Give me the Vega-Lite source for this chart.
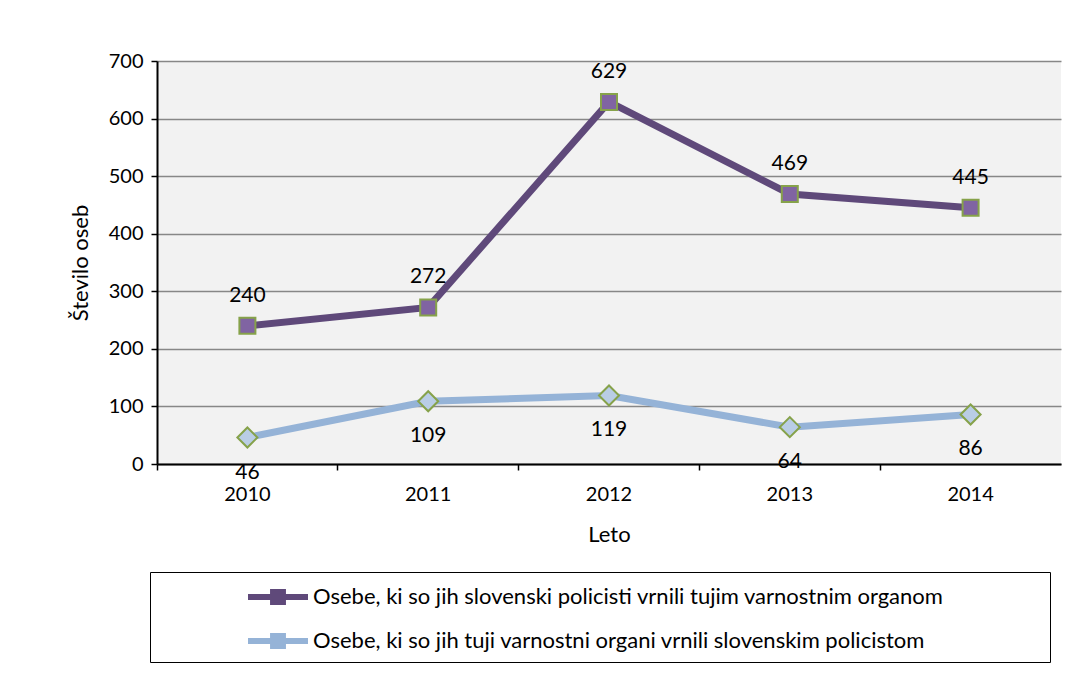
{
  "$schema": "https://vega.github.io/schema/vega-lite/v6.json",
  "width": 904,
  "height": 403,
  "autosize": {"type": "none"},
  "padding": {"left": 157, "top": 61, "right": 31, "bottom": 211},
  "background": "white",
  "config": {
    "view": {"fill": "#F2F2F2", "stroke": null},
    "font": "Lato",
    "text": {"font": "Lato"}
  },
  "data": {
    "values": [
      {"year": "2010", "series": "Osebe, ki so jih slovenski policisti vrnili tujim varnostnim organom", "value": 240},
      {"year": "2011", "series": "Osebe, ki so jih slovenski policisti vrnili tujim varnostnim organom", "value": 272},
      {"year": "2012", "series": "Osebe, ki so jih slovenski policisti vrnili tujim varnostnim organom", "value": 629},
      {"year": "2013", "series": "Osebe, ki so jih slovenski policisti vrnili tujim varnostnim organom", "value": 469},
      {"year": "2014", "series": "Osebe, ki so jih slovenski policisti vrnili tujim varnostnim organom", "value": 445},
      {"year": "2010", "series": "Osebe, ki so jih tuji varnostni organi vrnili slovenskim policistom", "value": 46},
      {"year": "2011", "series": "Osebe, ki so jih tuji varnostni organi vrnili slovenskim policistom", "value": 109},
      {"year": "2012", "series": "Osebe, ki so jih tuji varnostni organi vrnili slovenskim policistom", "value": 119},
      {"year": "2013", "series": "Osebe, ki so jih tuji varnostni organi vrnili slovenskim policistom", "value": 64},
      {"year": "2014", "series": "Osebe, ki so jih tuji varnostni organi vrnili slovenskim policistom", "value": 86}
    ]
  },
  "encoding": {
    "x": {
      "field": "year",
      "type": "ordinal",
      "scale": {"type": "band", "paddingInner": 0, "paddingOuter": 0},
      "bandPosition": 0.5,
      "axis": {
        "title": "Leto",
        "titleFontSize": 22,
        "titleFontWeight": "normal",
        "titleColor": "black",
        "titlePadding": 20,
        "labelFontSize": 20,
        "labelColor": "black",
        "labelAngle": 0,
        "labelPadding": 14,
        "bandPosition": 0,
        "tickColor": "black",
        "tickSize": 6,
        "tickWidth": 1.5,
        "domainColor": "black",
        "domainWidth": 2,
        "grid": false
      }
    },
    "y": {
      "field": "value",
      "type": "quantitative",
      "scale": {"domain": [0, 700]},
      "axis": {
        "title": "Število oseb",
        "titleFontSize": 22,
        "titleFontWeight": "normal",
        "titleColor": "black",
        "titlePadding": 16,
        "values": [0, 100, 200, 300, 400, 500, 600, 700],
        "labelFontSize": 20,
        "labelColor": "black",
        "labelPadding": 8,
        "tickColor": "black",
        "tickSize": 6,
        "tickWidth": 1.5,
        "domainColor": "black",
        "domainWidth": 2,
        "grid": true,
        "gridColor": "#878787",
        "gridWidth": 1.3
      }
    }
  },
  "layer": [
    {
      "mark": {"type": "line", "strokeWidth": 7},
      "encoding": {
        "color": {
          "field": "series",
          "type": "nominal",
          "scale": {
            "domain": [
              "Osebe, ki so jih slovenski policisti vrnili tujim varnostnim organom",
              "Osebe, ki so jih tuji varnostni organi vrnili slovenskim policistom"
            ],
            "range": ["#5F497A", "#95B3D7"]
          },
          "legend": {
            "title": null,
            "orient": "none",
            "legendX": -7,
            "legendY": 511,
            "direction": "vertical",
            "strokeColor": "black",
            "fillColor": "white",
            "padding": 10,
            "symbolOffset": 103,
            "symbolType": "M-2,-0.2H-0.53V-0.53H0.53V-0.2H2V0.2H0.53V0.53H-0.53V0.2H-2Z",
            "symbolSize": 900,
            "symbolStrokeWidth": 0,
            "labelFontSize": 22,
            "labelColor": "black",
            "labelFont": "Lato",
            "labelLimit": 1000,
            "labelOffset": 20,
            "rowPadding": 18,
            "labelExpr": "datum.label + '\u2800\u2800\u2800\u2800\u2800\u2800'",
            "encode": {
              "symbols": {
                "update": {
                  "fill": {"scale": "color", "field": "value"},
                  "stroke": {"value": "transparent"},
                  "opacity": {"value": 1}
                }
              }
            }
          }
        }
      }
    },
    {
      "mark": {"type": "point", "filled": true, "stroke": "#86A24A", "strokeWidth": 2, "opacity": 1},
      "encoding": {
        "fill": {
          "field": "series",
          "type": "nominal",
          "scale": {"range": ["#8064A2", "#B9CDE5"]},
          "legend": null
        },
        "shape": {
          "field": "series",
          "type": "nominal",
          "scale": {"range": ["square", "diamond"]},
          "legend": null
        },
        "size": {
          "field": "series",
          "type": "nominal",
          "scale": {"range": [256, 400]},
          "legend": null
        }
      }
    },
    {
      "transform": [{"filter": "datum.series == 'Osebe, ki so jih slovenski policisti vrnili tujim varnostnim organom'"}],
      "mark": {"type": "text", "dy": -30, "fontSize": 21, "color": "black", "baseline": "middle"},
      "encoding": {"text": {"field": "value", "type": "quantitative"}}
    },
    {
      "transform": [{"filter": "datum.series == 'Osebe, ki so jih tuji varnostni organi vrnili slovenskim policistom'"}],
      "mark": {"type": "text", "dy": 35, "fontSize": 21, "color": "black", "baseline": "middle"},
      "encoding": {"text": {"field": "value", "type": "quantitative"}}
    }
  ]
}
